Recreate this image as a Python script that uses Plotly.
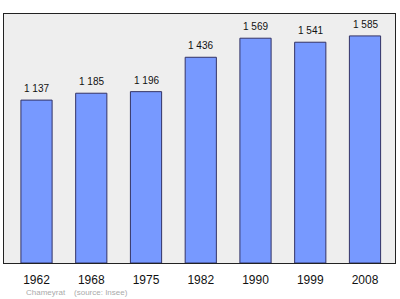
import plotly.graph_objects as go

years = ["1962", "1968", "1975", "1982", "1990", "1999", "2008"]
population = [1137, 1185, 1196, 1436, 1569, 1541, 1585]
labels = ["1 137", "1 185", "1 196", "1 436", "1 569", "1 541", "1 585"]

fig = go.Figure()
fig.add_trace(go.Bar(
    x=years, y=population, width=0.57,
    marker=dict(color="#7799ff", line=dict(color="#333366", width=1)),
    hoverinfo="skip",
))
for i, (v, t) in enumerate(zip(population, labels)):
    fig.add_annotation(x=i, y=v, text=t, showarrow=False, yanchor="bottom",
                       yshift=4, font=dict(family="Liberation Sans, Arial", size=10, color="#111111"))

fig.add_annotation(xref="paper", yref="paper", x=0.05, y=-0.12, xanchor="left", yanchor="middle",
                   text="Chameyrat&nbsp;&nbsp;&nbsp;&nbsp;(source: Insee)", showarrow=False,
                   font=dict(family="Liberation Sans, Arial", size=8, color="#aaaaaa"))

fig.update_layout(
    width=400, height=299,
    margin=dict(l=4, r=5, t=14, b=36),
    paper_bgcolor="white", plot_bgcolor="#eeeeee",
    showlegend=False,
    xaxis=dict(type="category", range=[-0.594, 6.548], showline=True, mirror=True,
               linecolor="#222222", linewidth=1, ticks="", showgrid=False,
               ticklabelstandoff=6,
               tickfont=dict(family="Liberation Sans, Arial", size=12, color="#111111")),
    yaxis=dict(range=[0, 1738], showline=True, mirror=True, linecolor="#222222", linewidth=1,
               showticklabels=False, ticks="", showgrid=False, zeroline=False),
)
fig.write_html("out.html")
